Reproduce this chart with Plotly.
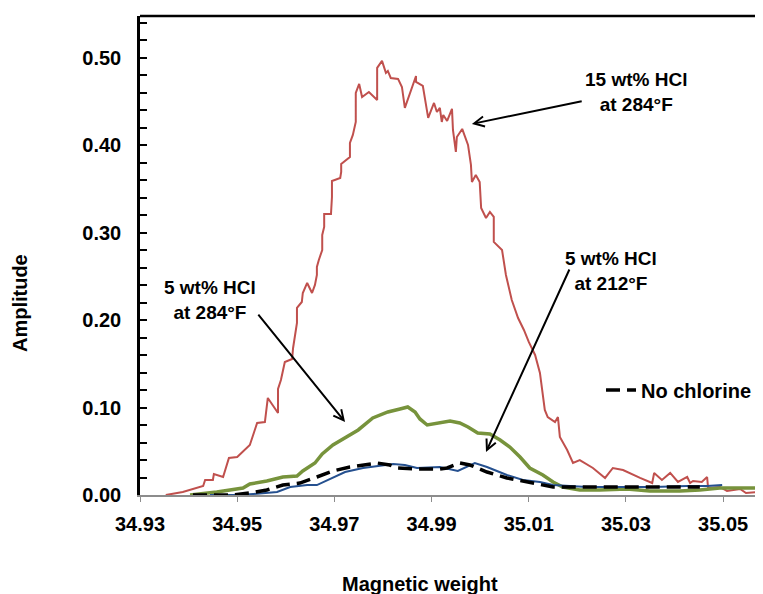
import plotly.graph_objects as go

# ---- data ----
red_x = [34.9353, 34.9388, 34.9430, 34.9434, 34.9450, 34.9452, 34.9471, 34.9483, 34.9500, 34.9526,
         34.9541, 34.9557, 34.9563, 34.9584, 34.9584, 34.9590, 34.9598, 34.9613, 34.9615, 34.9623,
         34.9623, 34.9633, 34.9635, 34.9644, 34.9654, 34.9660, 34.9664, 34.9664, 34.9668, 34.9675,
         34.9675, 34.9679, 34.9679, 34.9693, 34.9695, 34.9695, 34.9712, 34.9714, 34.9714, 34.9732,
         34.9732, 34.9738, 34.9744, 34.9744, 34.9751, 34.9757, 34.9771, 34.9788, 34.9788, 34.9798,
         34.9806, 34.9810, 34.9816, 34.9831, 34.9839, 34.9845, 34.9868, 34.9868, 34.9882, 34.9893,
         34.9905, 34.9911, 34.9917, 34.9921, 34.9924, 34.9932, 34.9942, 34.9944, 34.9950, 34.9952,
         34.9963, 34.9975, 34.9981, 34.9983, 34.9991, 34.9999, 35.0002, 35.0012, 35.0020, 35.0028,
         35.0028, 35.0045, 35.0053, 35.0065, 35.0078, 35.0090, 35.0100, 35.0109, 35.0113, 35.0123,
         35.0133, 35.0139, 35.0154, 35.0160, 35.0164, 35.0179, 35.0191, 35.0205, 35.0232, 35.0257,
         35.0273, 35.0294, 35.0314, 35.0329, 35.0354, 35.0358, 35.0374, 35.0391, 35.0407, 35.0426,
         35.0432, 35.0438, 35.0456, 35.0467, 35.0469, 35.0493, 35.0508, 35.0535, 35.0547, 35.0570,
         35.0582]
red_y = [0.0000, 0.0034, 0.0103, 0.0172, 0.0172, 0.0240, 0.0206, 0.0423, 0.0435, 0.0572,
         0.0824, 0.0835, 0.1110, 0.0938, 0.1213, 0.1316, 0.1522, 0.1556, 0.1682, 0.1968,
         0.2140, 0.2208, 0.2311, 0.2426, 0.2311, 0.2403, 0.2517, 0.2609, 0.2689, 0.2803,
         0.2975, 0.3066, 0.3215, 0.3215, 0.3410, 0.3593, 0.3627, 0.3696, 0.3787, 0.3867,
         0.4028, 0.4119, 0.4268, 0.4600, 0.4703, 0.4554, 0.4611, 0.4520, 0.4886, 0.4966,
         0.4829, 0.4851, 0.4771, 0.4760, 0.4668, 0.4428, 0.4794, 0.4726, 0.4680, 0.4314,
         0.4485, 0.4382, 0.4428, 0.4268, 0.4348, 0.4279, 0.4417, 0.4176, 0.3925, 0.4096,
         0.4188, 0.4005, 0.3776, 0.3581, 0.3661, 0.3581, 0.3284, 0.3169, 0.3238, 0.3181,
         0.2895, 0.2803, 0.2517, 0.2231, 0.2025, 0.1888, 0.1751, 0.1659, 0.1602, 0.1396,
         0.0973, 0.0892, 0.0835, 0.0892, 0.0664, 0.0515, 0.0366, 0.0400, 0.0309, 0.0195,
         0.0309, 0.0286, 0.0229, 0.0195, 0.0137, 0.0252, 0.0172, 0.0252, 0.0149, 0.0206,
         0.0137, 0.0160, 0.0149, 0.0206, 0.0080, 0.0092, 0.0046, 0.0069, 0.0023, 0.0034,
         0.0011]

green_x = [34.9403, 34.9458, 34.9512, 34.9526, 34.9561, 34.9594, 34.9623, 34.9635, 34.9660, 34.9675,
           34.9697, 34.9726, 34.9749, 34.9779, 34.9810, 34.9835, 34.9851, 34.9866, 34.9876, 34.9891,
           34.9921, 34.9938, 34.9958, 34.9975, 34.9995, 35.0020, 35.0041, 35.0061, 35.0082, 35.0102,
           35.0129, 35.0150, 35.0170, 35.0205, 35.0246, 35.0302, 35.0349, 35.0411, 35.0452, 35.0493,
           35.0582]
green_y = [0.0000, 0.0034, 0.0080, 0.0126, 0.0160, 0.0206, 0.0217, 0.0275, 0.0366, 0.0469,
           0.0572, 0.0664, 0.0744, 0.0881, 0.0950, 0.0984, 0.1007, 0.0950, 0.0870, 0.0801,
           0.0835, 0.0847, 0.0824, 0.0778, 0.0709, 0.0698, 0.0629, 0.0549, 0.0435, 0.0309,
           0.0229, 0.0149, 0.0092, 0.0057, 0.0057, 0.0069, 0.0046, 0.0046, 0.0057, 0.0080,
           0.0080]

blue_x = [34.9444, 34.9502, 34.9533, 34.9582, 34.9609, 34.9644, 34.9664, 34.9695, 34.9722, 34.9759,
          34.9800, 34.9821, 34.9845, 34.9870, 34.9917, 34.9954, 34.9989, 35.0014, 35.0055, 35.0088,
          35.0123, 35.0150, 35.0220, 35.0288, 35.0356, 35.0426, 35.0467, 35.0498]
blue_y = [0.0000, 0.0000, 0.0011, 0.0034, 0.0092, 0.0114, 0.0114, 0.0195, 0.0263, 0.0309,
          0.0343, 0.0355, 0.0343, 0.0309, 0.0320, 0.0275, 0.0366, 0.0320, 0.0229, 0.0172,
          0.0149, 0.0114, 0.0092, 0.0092, 0.0092, 0.0103, 0.0103, 0.0114]

black_x = [34.9409, 34.9491, 34.9526, 34.9561, 34.9594, 34.9629, 34.9664, 34.9697, 34.9732, 34.9788,
           34.9814, 34.9829, 34.9870, 34.9917, 34.9932, 34.9958, 34.9979, 35.0014, 35.0055, 35.0096,
           35.0150, 35.0220, 35.0288, 35.0356, 35.0426, 35.0452]
black_y = [0.0000, 0.0000, 0.0023, 0.0057, 0.0114, 0.0137, 0.0206, 0.0275, 0.0320, 0.0366,
           0.0343, 0.0309, 0.0297, 0.0297, 0.0309, 0.0366, 0.0343, 0.0263, 0.0195, 0.0149,
           0.0092, 0.0092, 0.0092, 0.0092, 0.0092, 0.0092]

x_ticks = [34.93, 34.95, 34.97, 34.99, 35.01, 35.03, 35.05]
y_ticks = [0.0, 0.1, 0.2, 0.3, 0.4, 0.5]

FONT = "Liberation Sans, Arial, sans-serif"
FS = 20
FA = 19

fig = go.Figure()
fig.add_trace(go.Scatter(x=red_x, y=red_y, mode="lines", showlegend=False,
                         line=dict(color="#C0504D", width=2)))
fig.add_trace(go.Scatter(x=green_x, y=green_y, mode="lines", showlegend=False,
                         line=dict(color="#77933C", width=3.5)))
fig.add_trace(go.Scatter(x=blue_x, y=blue_y, mode="lines", showlegend=False,
                         line=dict(color="#25508F", width=2)))
fig.add_trace(go.Scatter(x=black_x, y=black_y, mode="lines", name="No chlorine", showlegend=True,
                         line=dict(color="black", width=3.5, dash="14px,7px")))

annos = []
# arrows (head at x,y ; tail at ax,ay in data units)
arrows = [
    (34.9983, 0.4245, 35.0212, 0.4508),
    (34.9722, 0.0835, 34.9541, 0.2082),
    (35.0012, 0.0492, 35.0185, 0.2597),
]
for hx, hy, tx, ty in arrows:
    annos.append(dict(x=hx, y=hy, ax=tx, ay=ty, xref="x", yref="y", axref="x", ayref="y",
                      text="", showarrow=True, arrowhead=5, arrowsize=1.0, arrowwidth=2,
                      arrowcolor="black"))
labels = [
    (35.0321, 0.4611, "15 wt% HCl<br>at 284°F"),
    (34.9444, 0.2231, "5 wt% HCl<br>at 284°F"),
    (35.0269, 0.2563, "5 wt% HCl<br>at 212°F"),
]
for lx, ly, t in labels:
    annos.append(dict(x=lx, y=ly, xref="x", yref="y", xanchor="center", yanchor="middle",
                      text="<b>%s</b>" % t.replace("<br>", "</b><br><b>"),
                      showarrow=False, align="center",
                      font=dict(family=FONT, size=FA, color="black")))
annos.append(dict(x=-0.1926, y=0.4008, xref="paper", yref="paper", xanchor="center",
                  yanchor="middle", text="<b>Amplitude</b>",
                  textangle=-90, showarrow=False, font=dict(family=FONT, size=FS, color="black")))
annos.append(dict(x=0.4494, y=-0.1858, xref="paper", yref="paper", xanchor="center",
                  yanchor="middle", text="<b>Magnetic weight</b>",
                  showarrow=False, font=dict(family=FONT, size=FS, color="black")))

fig.update_layout(
    width=755, height=586,
    margin=dict(l=132, r=0, t=8, b=99, pad=0),
    paper_bgcolor="white", plot_bgcolor="white",
    font=dict(family=FONT, size=FS, color="black"),
    annotations=annos,
    legend=dict(x=0.740, y=0.219, xanchor="left", yanchor="middle",
                bgcolor="rgba(0,0,0,0)", font=dict(family=FONT, size=FS, color="black", weight="bold"),
                itemwidth=30),
    shapes=[dict(type="line", xref="paper", yref="paper", x0=0, x1=1, y0=1, y1=1,
                 line=dict(color="black", width=2.5))],
    xaxis=dict(range=[34.93, 35.0582], tickvals=x_ticks, tickformat=".2f",
               showgrid=False, zeroline=False, showline=True, linecolor="#8c8c8c", linewidth=2,
               ticks="outside", ticklen=5, tickwidth=1, tickcolor="#8c8c8c",
               tickfont=dict(family=FONT, size=FS, color="black", weight="bold"),
               ticklabelstandoff=5),
    yaxis=dict(range=[0, 0.548], tickvals=y_ticks, tickformat=".2f",
               showgrid=False, zeroline=False, showline=True, linecolor="black", linewidth=2.5,
               ticks="inside", ticklen=7, tickwidth=2, tickcolor="black",
               minor=dict(dtick=0.02, ticks="inside", ticklen=7, tickwidth=2, tickcolor="black",
                          showgrid=False),
               tickfont=dict(family=FONT, size=FS, color="black", weight="bold"),
               ticklabelstandoff=12),
)

fig.write_html("out.html")
